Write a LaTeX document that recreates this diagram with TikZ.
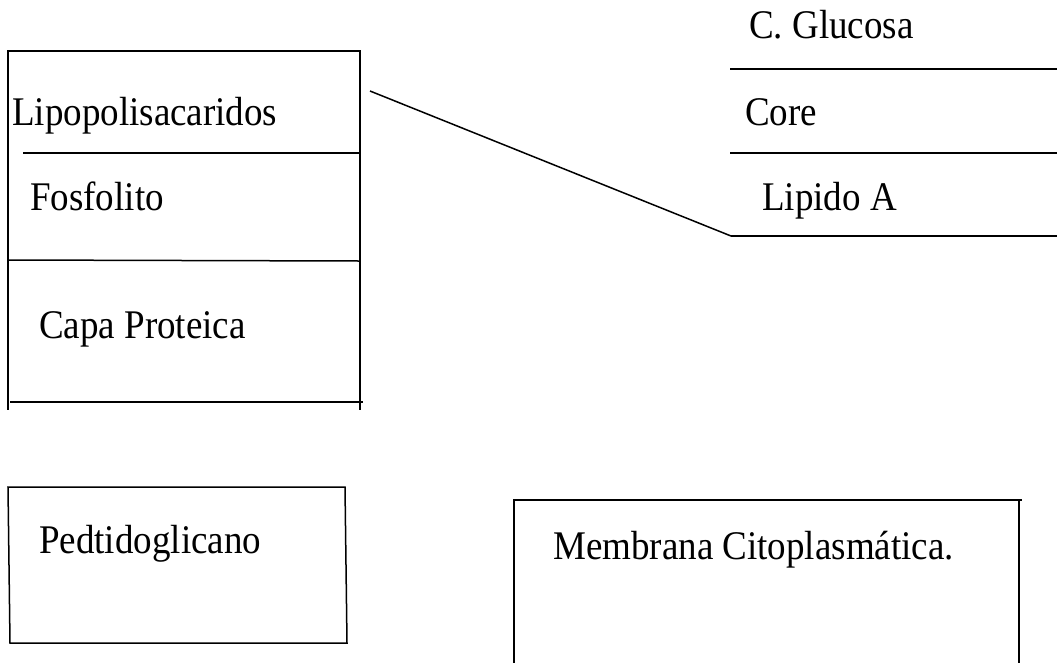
\documentclass[tikz,border=0pt]{standalone}
\usepackage{fontspec}
\usepackage{graphicx}
\setmainfont{Liberation Serif}
\newcommand{\tallt}[1]{\scalebox{1}[1.1]{#1}}
\begin{document}
\begin{tikzpicture}[x=1pt,y=-1pt,
  lbl/.style={anchor=base west,inner sep=0pt,font=\fontsize{37}{40}\selectfont},
  ln/.style={line width=1.5pt,black}]
\useasboundingbox (0,0) rectangle (1057,662);
% left stacked box
\draw[ln] (8,50) -- (8,410);
\draw[ln] (360,50) -- (360,410);
\draw[ln] (8,51) -- (360,51);
\draw[ln] (23,153) -- (360,153);
\draw[ln] (8,260) -- (360,261);
\draw[ln] (10,402) -- (363,402);
\node[lbl] (lps) at (12,125) {\tallt{Lipopolisacaridos}};
\node[lbl] (fos) at (30,210) {\tallt{Fosfolito}};
\node[lbl] (capa) at (39,338) {\tallt{Capa Proteica}};
% right detail
\coordinate (dstart) at (370,91);
\coordinate (dend) at (731,236);
\draw[ln] (dstart) -- (dend);
\draw[ln] (730,69) -- (1057,69);
\draw[ln] (730,153) -- (1057,153);
\draw[ln] (dend) -- (1057,236);
\node[lbl] (glu) at (749,38) {\tallt{C. Glucosa}};
\node[lbl] (core) at (745,125) {\tallt{Core}};
\node[lbl] (lipa) at (762,210) {\tallt{Lipido A}};
% bottom boxes
\draw[ln] (8,487) -- (345,487) -- (347,643) -- (10,643) -- cycle;
\node[lbl] (ped) at (39,553) {\tallt{Pedtidoglicano}};
\draw[ln] (514,663) -- (514,500) -- (1022,500);
\draw[ln] (1019,500) -- (1019,663);
\node[lbl] (mem) at (553,559) {\tallt{Membrana Citoplasmática.}};
\end{tikzpicture}
\end{document}
